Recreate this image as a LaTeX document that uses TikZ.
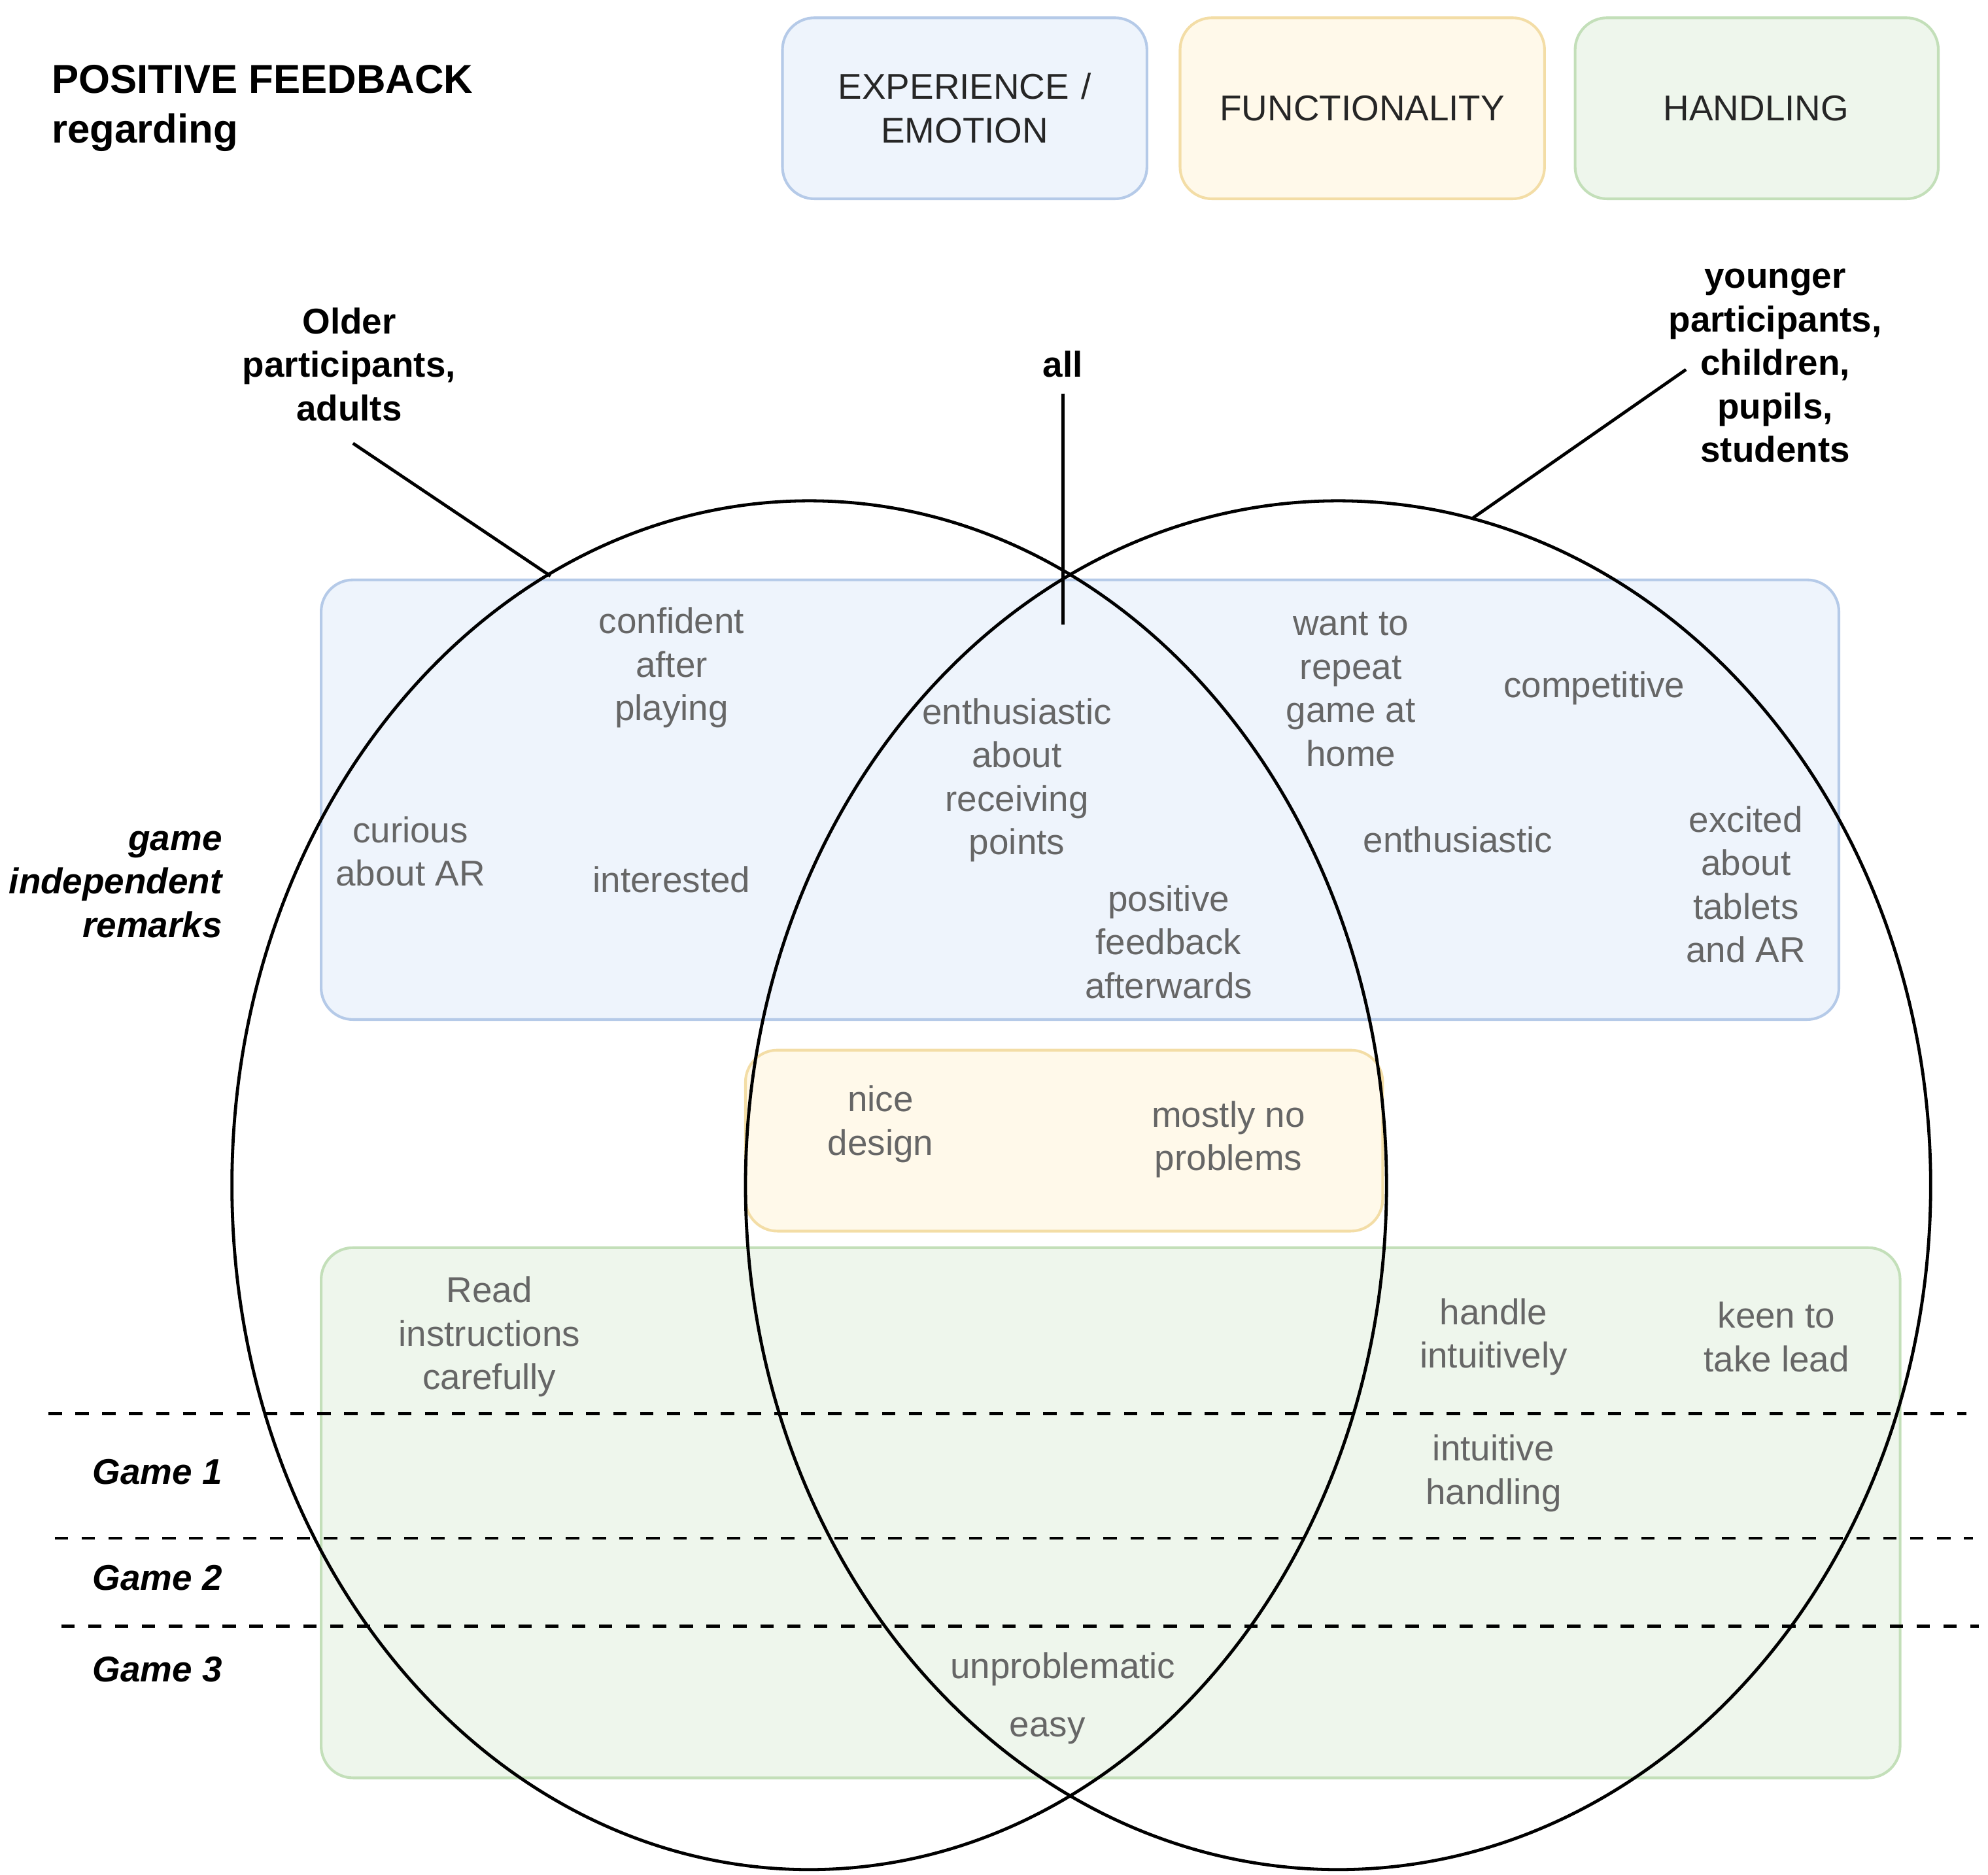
\documentclass[tikz,border=0pt]{standalone}
\usepackage{fontspec}
\setmainfont{Liberation Sans}
\usetikzlibrary{positioning}
\definecolor{blueF}{HTML}{EEF4FC}
\definecolor{blueD}{HTML}{B5CAE8}
\definecolor{yelF}{HTML}{FFF9EA}
\definecolor{yelD}{HTML}{F3DDA6}
\definecolor{grnF}{HTML}{EEF6EC}
\definecolor{grnD}{HTML}{C3DFB9}
\definecolor{txt}{HTML}{666666}
\begin{document}
\begin{tikzpicture}[x=0.01cm,y=-0.01cm,
    font=\fontsize{8}{9.7}\selectfont]

	\tikzstyle{band} = [draw, rounded corners=0.25cm, line width=0.6pt]
	\tikzstyle{legend} = [text width=2.6cm, align=center, text=black!85]
	\tikzstyle{remark} = [align=center, text=txt]
	\tikzstyle{group} = [align=center, font=\fontsize{8}{9.7}\selectfont\bfseries]
	\tikzstyle{rowlabel} = [anchor=east, align=right, inner sep=0pt, font=\fontsize{8}{9.7}\selectfont\bfseries\itshape]
	\tikzstyle{line} = [draw, line width=0.7pt]

    \useasboundingbox (0,0) rectangle (1560,1471);

    % Legend
    \node [anchor=west, align=left, inner sep=0pt, font=\fontsize{9}{11}\selectfont\bfseries] at (40, 85) (title) {POSITIVE FEEDBACK\\regarding};
    \draw [band, fill=blueF, draw=blueD] (614,14) rectangle (900,156);
    \draw [band, fill=yelF, draw=yelD] (926,14) rectangle (1212,156);
    \draw [band, fill=grnF, draw=grnD] (1236,14) rectangle (1521,156);
    \node [legend] at (757, 85) (exp) {EXPERIENCE /\\EMOTION};
    \node [legend] at (1069, 85) (func) {FUNCTIONALITY};
    \node [legend] at (1378, 85) (hand) {HANDLING};

    % Bands
    \draw [band, fill=blueF, draw=blueD] (252,455) rectangle (1443,800);
    \draw [band, fill=yelF, draw=yelD] (585,824) rectangle (1085,966);
    \draw [band, fill=grnF, draw=grnD] (252,979) rectangle (1491,1395);

    % Circles
    \draw [line] (635,930) ellipse [x radius=453, y radius=537];
    \draw [line] (1050,930) ellipse [x radius=465, y radius=537];

    % Game rows
    \draw [line, dashed] (38,1109) -- (1543,1109);
    \draw [line, dashed] (43,1207) -- (1548,1207);
    \draw [line, dashed] (48,1276) -- (1553,1276);
    \node [rowlabel] at (175, 694) (indep) {game\\independent\\remarks};
    \node [rowlabel] at (175, 1155) (game1) {Game 1};
    \node [rowlabel] at (175, 1238) (game2) {Game 2};
    \node [rowlabel] at (175, 1310) (game3) {Game 3};

    % Groups
    \node [group] at (274, 286) (older) {Older\\participants,\\adults};
    \node [group] at (834, 286) (all) {all};
    \node [group] at (1393, 287) (younger) {younger\\participants,\\children,\\pupils,\\students};
    \coordinate (olderEnd) at (432,452);
    \coordinate (allEnd) at (834,490);
    \coordinate (youngerEnd) at (1155,407);
    \path [line] (older.south) ++(3,5) -- (olderEnd);
    \path [line] (all.south) -- (allEnd);
    \path [line] (1323,290) -- (youngerEnd);

    % Remarks
    \node [remark] at (527, 524) (confident) {confident\\after\\playing};
    \node [remark] at (322, 668) (curious) {curious\\about AR};
    \node [remark] at (527, 690) (interested) {interested};
    \node [remark] at (798, 612) (points) {enthusiastic\\about\\receiving\\points};
    \node [remark] at (917, 739) (afterwards) {positive\\feedback\\afterwards};
    \node [remark] at (1060, 541) (repeat) {want to\\repeat\\game at\\home};
    \node [remark] at (1251, 540) (competitive) {competitive};
    \node [remark] at (1144, 659) (enthusiastic) {enthusiastic};
    \node [remark] at (1370, 694) (excited) {excited\\about\\tablets\\and AR};
    \node [remark] at (691, 882) (design) {nice\\design};
    \node [remark] at (964, 894) (noproblems) {mostly no\\problems};
    \node [remark] at (384, 1049) (read) {Read\\instructions\\carefully};
    \node [remark] at (1172, 1049) (intuitively) {handle\\intuitively};
    \node [remark] at (1394, 1049) (lead) {keen to\\take lead};
    \node [remark] at (1172, 1156) (intuitive) {intuitive\\handling};
    \node [remark] at (834, 1310) (unproblematic) {unproblematic};
    \node [remark] at (822, 1358) (easy) {easy};
\end{tikzpicture}
\end{document}
